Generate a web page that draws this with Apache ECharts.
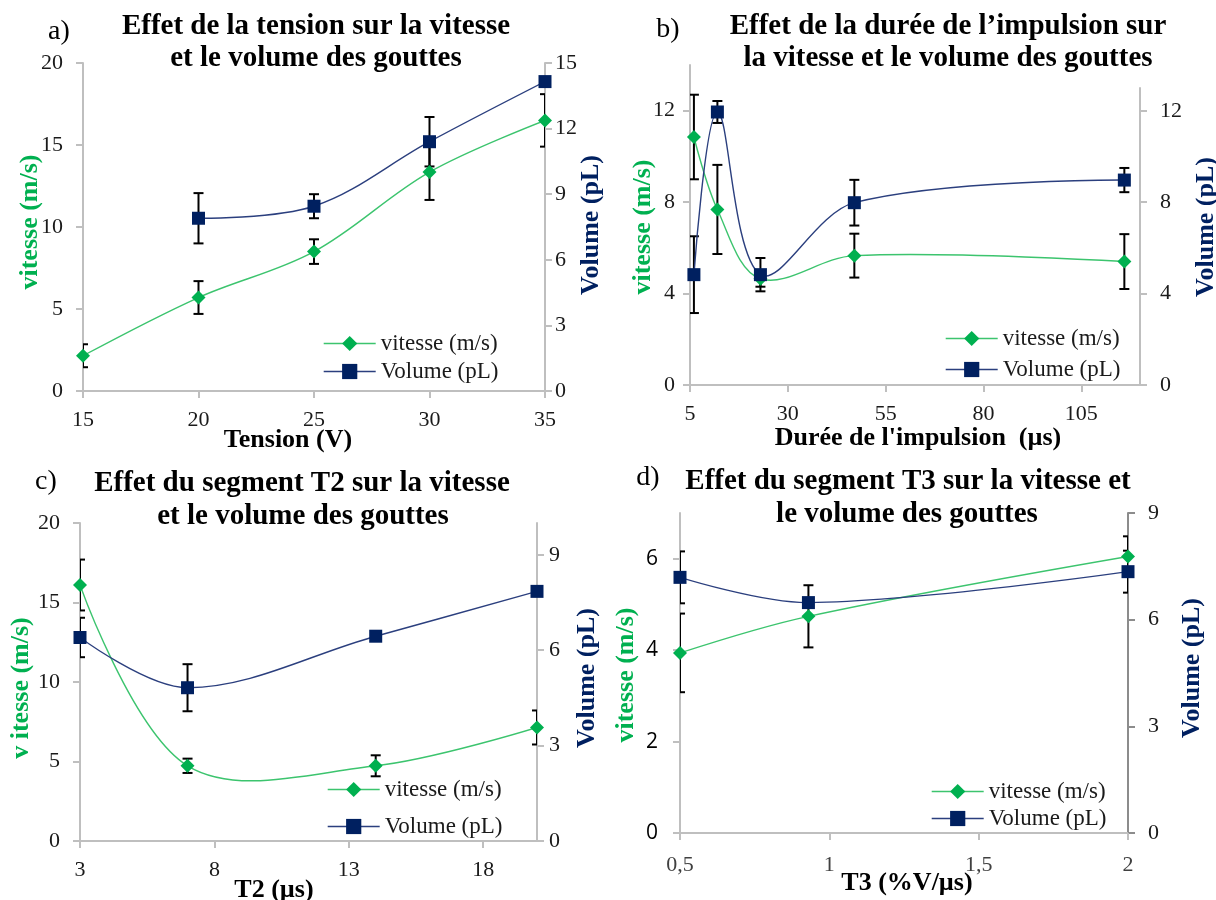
<!DOCTYPE html>
<html>
<head>
<meta charset="utf-8">
<style>html,body{margin:0;padding:0;background:#fff}#c{width:1216px;height:900px}</style>
<script src="https://cdn.jsdelivr.net/npm/echarts@6/dist/echarts.min.js"></script>
</head>
<body>
<div id="c"></div>
<script>
// ---- Panel a : tension ----
const tensionX = [15, 20, 25, 30, 35];
const vitesseA = [2.15, 5.7, 8.5, 13.35, 16.5];
const vitesseAErr = [0.7, 1.0, 0.75, 1.7, 1.6];
const volumeA = [null, 7.9, 8.45, 11.4, 14.15];
const volumeAErr = [null, 1.15, 0.55, 1.13, null];
// ---- Panel b : durée de l'impulsion ----
const dureeX = [6, 12, 23, 47, 116];
const vitesseB = [10.85, 7.68, 4.65, 5.66, 5.4];
const vitesseBErr = [1.85, 1.95, 0.35, 0.96, 1.2];
const volumeB = [4.83, 11.95, 4.83, 7.98, 8.97];
const volumeBErr = [1.68, 0.48, 0.73, 1.0, 0.53];
const dureeTicks = [5, 30, 55, 80, 105];
const bLeftTicks = [0, 4, 8, 12];
const bRightTicks = [0, 4, 8, 12];
// ---- Panel c : segment T2 ----
const t2X = [3, 7, 14, 20];
const vitesseC = [16.1, 4.73, 4.73, 7.14];
const vitesseCErr = [1.6, 0.45, 0.66, 1.07];
const volumeC = [6.4, 4.82, 6.44, 7.85];
const volumeCErr = [0.62, 0.74, null, null];
const t2Ticks = [3, 8, 13, 18];
const cRightTicks = [0, 3, 6, 9];
// ---- Panel d : segment T3 ----
const t3X = [0.5, 0.93, 2];
const vitesseD = [3.94, 4.74, 6.05];
const vitesseDErr = [0.86, 0.68, 0.44];
const volumeD = [7.19, 6.48, 7.35];
const volumeDErr = [0.73, null, 0.59];
const dLeftTicks = [0, 2, 4, 6];

const SERIF = "'Liberation Serif','Times New Roman',serif";
const GREEN = '#00b050', GREEN_LINE = '#3cc46e';
const NAVY = '#002060', NAVY_LINE = '#2b3f7e';
const AX = '#bfbfbf';
const SMOOTH = 0.35;

function pairs(xs, ys) {
  const out = [];
  xs.forEach((x, i) => { if (ys[i] != null) out.push([x, ys[i]]); });
  return out;
}
// markers (line itself is drawn by curveSeries)
function markerSeries(name, xs, ys, xi, yi) {
  const isV = name.startsWith('vitesse');
  return {
    type: 'line', name, xAxisIndex: xi, yAxisIndex: yi,
    data: pairs(xs, ys),
    symbol: isV ? 'diamond' : 'rect', symbolSize: isV ? 14 : 13,
    itemStyle: { color: isV ? GREEN : NAVY },
    lineStyle: { color: isV ? GREEN_LINE : NAVY_LINE, width: 1.4, opacity: 0 },
    z: 4
  };
}
// smoothed connecting curve, drawn from the data through the axes
function curveSeries(xs, ys, xi, yi, color) {
  const data = pairs(xs, ys);
  return {
    type: 'custom', name: 'curve', xAxisIndex: xi, yAxisIndex: yi, clip: true, silent: true, z: 3,
    encode: { x: 0, y: 1 }, data,
    renderItem(params, api) {
      if (params.dataIndexInside !== 0) return null;
      const pts = data.map(d => api.coord(d));
      return { type: 'polyline', shape: { points: pts, smooth: SMOOTH },
        style: { stroke: color, lineWidth: 1.4, fill: null } };
    }
  };
}
function errSeries(xs, ys, es, xi, yi) {
  const data = [];
  xs.forEach((x, i) => { if (ys[i] != null && es[i] != null) data.push([x, ys[i], es[i]]); });
  return {
    type: 'custom', name: 'err', xAxisIndex: xi, yAxisIndex: yi, clip: true, silent: true, z: 2,
    encode: { x: 0, y: 1 }, data,
    renderItem(params, api) {
      const x = api.value(0), y = api.value(1), e = api.value(2);
      const t = api.coord([x, y + e]), b = api.coord([x, y - e]);
      const hw = 5, st = { stroke: '#000', lineWidth: 2 };
      return { type: 'group', children: [
        { type: 'line', shape: { x1: t[0], y1: t[1], x2: b[0], y2: b[1] }, style: st },
        { type: 'line', shape: { x1: t[0] - hw, y1: t[1], x2: t[0] + hw, y2: t[1] }, style: st },
        { type: 'line', shape: { x1: b[0] - hw, y1: b[1], x2: b[0] + hw, y2: b[1] }, style: st }
      ]};
    }
  };
}
function baseAxis(extra) {
  const a = {
    type: 'value',
    axisLine: { show: true, onZero: false, lineStyle: { color: AX, width: 2 } },
    axisTick: { show: true, inside: false, length: 7, lineStyle: { color: AX, width: 2 } },
    axisLabel: { fontFamily: SERIF, fontSize: 22, color: '#1a1a1a' },
    splitLine: { show: false }
  };
  for (const k in extra) {
    if (typeof extra[k] === 'object' && !Array.isArray(extra[k]) && a[k]) a[k] = Object.assign({}, a[k], extra[k]);
    else a[k] = extra[k];
  }
  return a;
}

const grids = [
  { left: 83, top: 63, width: 462, height: 328 },
  { left: 690, top: 65, width: 450, height: 320 },
  { left: 690, top: 88, width: 450, height: 297 },
  { left: 80, top: 523, width: 457, height: 318 },
  { left: 680, top: 513, width: 448, height: 320 }
];

const xAxes = [
  baseAxis({ gridIndex: 0, min: 15, max: 35, interval: 5, axisLabel: { margin: 18 } }),
  baseAxis({ gridIndex: 1, min: 5, max: 120, axisTick: { customValues: dureeTicks }, axisLabel: { margin: 18, customValues: dureeTicks } }),
  baseAxis({ gridIndex: 2, min: 5, max: 120, show: false }),
  baseAxis({ gridIndex: 3, min: 3, max: 20, axisTick: { customValues: t2Ticks }, axisLabel: { margin: 18, customValues: t2Ticks } }),
  baseAxis({ gridIndex: 4, min: 0.5, max: 2, interval: 0.5, axisLabel: { margin: 21, color: '#404040', formatter: v => String(v).replace('.', ',') } })
];
const yAxes = [
  baseAxis({ gridIndex: 0, position: 'left', min: 0, max: 20, interval: 5, axisLabel: { margin: 20 } }),
  baseAxis({ gridIndex: 0, position: 'right', min: 0, max: 15, interval: 3, axisLabel: { margin: 10 } }),
  baseAxis({ gridIndex: 1, position: 'left', min: 0, max: 14, axisTick: { customValues: bLeftTicks }, axisLabel: { margin: 15, customValues: bLeftTicks } }),
  baseAxis({ gridIndex: 2, position: 'right', min: 0, max: 13, axisTick: { customValues: bRightTicks }, axisLabel: { margin: 20, customValues: bRightTicks } }),
  baseAxis({ gridIndex: 3, position: 'left', min: 0, max: 20, interval: 5, axisLabel: { margin: 20 } }),
  baseAxis({ gridIndex: 3, position: 'right', min: 0, max: 10, axisTick: { customValues: cRightTicks }, axisLabel: { margin: 12, customValues: cRightTicks } }),
  baseAxis({ gridIndex: 4, position: 'left', min: 0, max: 7, axisTick: { customValues: dLeftTicks }, axisLabel: { margin: 22, fontFamily: "'Open Sans',sans-serif", fontSize: 21, color: '#000', customValues: dLeftTicks } }),
  baseAxis({ gridIndex: 4, position: 'right', min: 0, max: 9, interval: 3, axisLine: { lineStyle: { color: '#8c8c8c', width: 2 } }, axisTick: { lineStyle: { color: '#8c8c8c', width: 2 } }, axisLabel: { margin: 20 } })
];

const V = 'vitesse (m/s)', VOL = 'Volume (pL)';
function panel(xs, vit, vitErr, vol, volErr, xi, xiR, yiL, yiR) {
  return [
    errSeries(xs, vit, vitErr, xi, yiL),
    errSeries(xs, vol, volErr, xiR, yiR),
    curveSeries(xs, vit, xi, yiL, GREEN_LINE),
    curveSeries(xs, vol, xiR, yiR, NAVY_LINE),
    markerSeries(V, xs, vit, xi, yiL),
    markerSeries(VOL, xs, vol, xiR, yiR)
  ];
}
const series = [].concat(
  panel(tensionX, vitesseA, vitesseAErr, volumeA, volumeAErr, 0, 0, 0, 1),
  panel(dureeX, vitesseB, vitesseBErr, volumeB, volumeBErr, 1, 2, 2, 3),
  panel(t2X, vitesseC, vitesseCErr, volumeC, volumeCErr, 3, 3, 4, 5),
  panel(t3X, vitesseD, vitesseDErr, volumeD, volumeDErr, 4, 4, 6, 7)
);

const LEG_TEXT = { fontFamily: SERIF, fontSize: 23, color: '#1a1a1a', fontWeight: 'normal' };
function legend(left, top, gap) {
  return {
    data: [
      { name: V, lineStyle: { color: GREEN_LINE, width: 1.4, opacity: 1 }, textStyle: LEG_TEXT },
      { name: VOL, lineStyle: { color: NAVY_LINE, width: 1.4, opacity: 1 }, textStyle: LEG_TEXT }
    ],
    orient: 'vertical', left, top, itemGap: gap, padding: 0,
    itemWidth: 52, itemHeight: 19, selectedMode: false,
    textStyle: LEG_TEXT
  };
}

function txt(x, y, text, opt) {
  opt = opt || {};
  return {
    type: 'text', x, y, rotation: opt.rot || 0, silent: true,
    style: {
      text, align: 'center', verticalAlign: 'middle',
      font: (opt.bold === false ? '' : 'bold ') + (opt.size || 26) + 'px ' + SERIF,
      fill: opt.color || '#000'
    }
  };
}
const R = Math.PI / 2;
const graphics = [
  txt(59, 32, 'a)', { bold: false, size: 28 }),
  txt(316, 27, 'Effet de la tension sur la vitesse', { size: 29 }),
  txt(316, 59, 'et le volume des gouttes', { size: 29 }),
  txt(30, 222, 'vitesse (m/s)', { rot: R, color: GREEN }),
  txt(591, 225, 'Volume (pL)', { rot: R, color: NAVY }),
  txt(288, 440, 'Tension (V)'),

  txt(668, 30, 'b)', { bold: false, size: 28 }),
  txt(948, 27, 'Effet de la durée de l’impulsion sur', { size: 29 }),
  txt(948, 59, 'la vitesse et le volume des gouttes', { size: 29 }),
  txt(643, 227, 'vitesse (m/s)', { rot: R, color: GREEN }),
  txt(1206, 227, 'Volume (pL)', { rot: R, color: NAVY }),
  txt(918, 438, "Durée de l'impulsion  (µs)"),

  txt(46, 482, 'c)', { bold: false, size: 28 }),
  txt(302, 484, 'Effet du segment T2 sur la vitesse', { size: 29 }),
  txt(303, 517, 'et le volume des gouttes', { size: 29 }),
  txt(21, 688, 'v itesse (m/s)', { rot: R, color: GREEN }),
  txt(587, 678, 'Volume (pL)', { rot: R, color: NAVY }),
  txt(274, 890, 'T2 (µs)'),

  txt(648, 478, 'd)', { bold: false, size: 28 }),
  txt(908, 482, 'Effet du segment T3 sur la vitesse et', { size: 29 }),
  txt(907, 515, 'le volume des gouttes', { size: 29 }),
  txt(626, 675, 'vitesse (m/s)', { rot: R, color: GREEN }),
  txt(1192, 668, 'Volume (pL)', { rot: R, color: NAVY }),
  txt(907, 883, 'T3 (%V/µs)')
];

const chart = echarts.init(document.getElementById('c'), null, { renderer: 'canvas' });
chart.setOption({
  animation: false,
  backgroundColor: '#fff',
  textStyle: { fontFamily: SERIF },
  grid: grids.map(g => Object.assign({ outerBoundsMode: 'none', containLabel: false }, g)),
  xAxis: xAxes,
  yAxis: yAxes,
  legend: [legend(323, 332, 5), legend(945, 327, 8), legend(327, 778, 14), legend(931, 780, 4)],
  series,
  graphic: { elements: graphics }
});
</script>
</body>
</html>
